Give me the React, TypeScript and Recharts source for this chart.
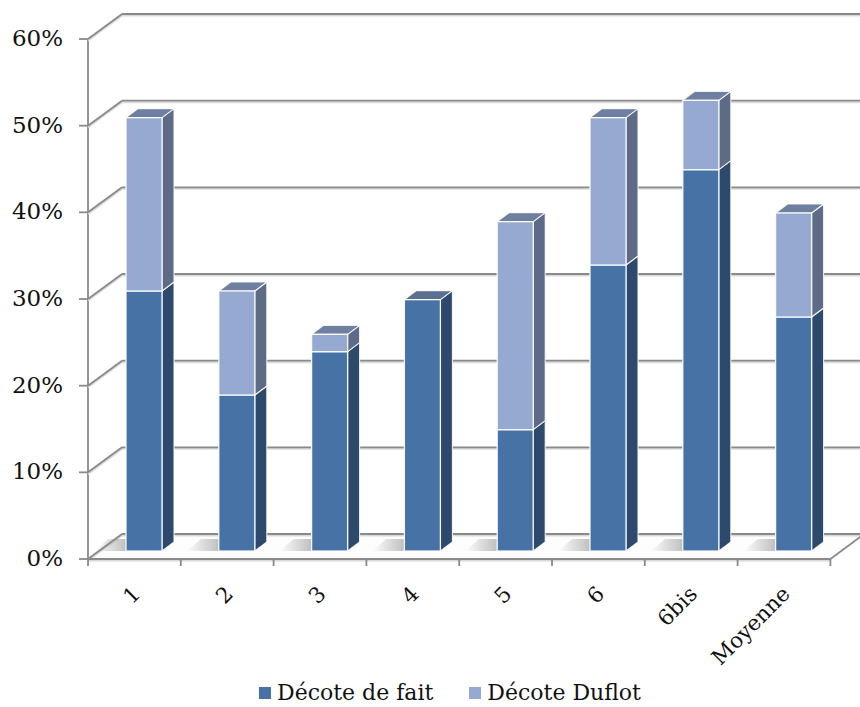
import React from 'react';
import { BarChart, Bar, XAxis, YAxis, CartesianGrid, Legend } from 'recharts';

// ---- data ----
const categories = ['1', '2', '3', '4', '5', '6', '6bis', 'Moyenne'];
const decoteDeFait = [30, 18, 23, 29, 14, 33, 44, 27];
const decoteDuflot = [20, 12, 2, 0, 24, 17, 8, 12];
const yTicks = [0, 10, 20, 30, 40, 50, 60];
const seriesNames = ['Décote de fait', 'Décote Duflot'];

const data = categories.map((c, i) => ({ cat: c, fait: decoteDeFait[i], duflot: decoteDuflot[i] }));

// ---- layout / style ----
const W = 860;
const H = 707;
const M_TOP = 31;
const PLOT_LEFT = 98;
const M_RIGHT = 19.6;
const X_AXIS_H = 156;
const PLOT_BOTTOM = H - X_AXIS_H;
const STEP = (PLOT_BOTTOM - M_TOP) / (yTicks.length - 1);
const FRONT_DX = -10;
const FRONT_DY = 8;
const BACK_DX = 24;
const BACK_DY = -17;
const BAR_DX = 12;
const BAR_DY = 9;
const BAND = (W - M_RIGHT - PLOT_LEFT) / categories.length;

const FONT = '"DejaVu Serif", serif';
const GRID = '#8a8a8a';
const GRID_SHADOW = '#dadada';
const TEXT = '#111111';

const C_FAIT = { front: '#4672a6', side: '#2d4a6d', top: '#5b6f90' };
const C_DUFLOT = { front: '#95a9d1', side: '#5e6b86', top: '#6f7fa0' };

function GridLine(props: any) {
  const { x1, y1, x2 } = props;
  const fx = x1 + FRONT_DX;
  const fy = y1 + FRONT_DY;
  const bx = x1 + BACK_DX;
  const by = y1 + BACK_DY;
  const isBottom = Math.abs(y1 - PLOT_BOTTOM) < 1;
  const isTop = Math.abs(y1 - M_TOP) < 1;
  const fxr = x2 + FRONT_DX;
  const dxd = BACK_DX - FRONT_DX;
  const dyd = BACK_DY - FRONT_DY;
  return (
    <g>
      {isBottom && (
        <polygon
          points={`${fx},${fy} ${fxr},${fy} ${fxr + dxd},${fy + dyd} ${bx},${by}`}
          fill="#fdfdfd"
          stroke="none"
        />
      )}
      <line x1={bx} y1={by + 1.5} x2={W} y2={by + 1.5} stroke={GRID_SHADOW} strokeWidth={2} />
      <line x1={fx} y1={fy + 1.5} x2={bx} y2={by + 1.5} stroke={GRID_SHADOW} strokeWidth={2} />
      <line x1={bx} y1={by} x2={W} y2={by} stroke={GRID} strokeWidth={1.8} />
      <line x1={fx} y1={fy} x2={bx} y2={by} stroke={GRID} strokeWidth={1.8} />
      <line x1={fx - 9} y1={fy} x2={fx} y2={fy} stroke={GRID} strokeWidth={1.8} />
      {!isTop && <line x1={fx} y1={fy} x2={fx} y2={fy - STEP} stroke={GRID} strokeWidth={1.8} />}
      {isBottom && (
        <g>
          <line x1={fx} y1={fy + 1.5} x2={fxr} y2={fy + 1.5} stroke={GRID_SHADOW} strokeWidth={2} />
          <line x1={fx} y1={fy} x2={fxr} y2={fy} stroke={GRID} strokeWidth={1.8} />
          <line x1={fxr} y1={fy} x2={fxr + dxd} y2={fy + dyd} stroke={GRID} strokeWidth={1.8} />
        </g>
      )}
    </g>
  );
}

function YTick(props: any) {
  const { y, payload } = props;
  return (
    <text
      x={PLOT_LEFT + FRONT_DX - 25}
      y={y + FRONT_DY - 1}
      textAnchor="end"
      dominantBaseline="central"
      fontFamily={FONT}
      fontSize={23}
      fill={TEXT}
    >
      {`${payload.value}%`}
    </text>
  );
}

function XTick(props: any) {
  const { x, payload, index } = props;
  const fx = x + FRONT_DX;
  const fy = PLOT_BOTTOM + FRONT_DY;
  const left = fx - BAND / 2;
  const right = fx + BAND / 2;
  const lx = fx + 2;
  const ly = fy + 31;
  return (
    <g>
      <line x1={left} y1={fy} x2={left} y2={fy + 7} stroke={GRID} strokeWidth={1.8} />
      {index === categories.length - 1 && (
        <line x1={right} y1={fy} x2={right} y2={fy + 7} stroke={GRID} strokeWidth={1.8} />
      )}
      <text
        x={lx}
        y={ly}
        transform={`rotate(-45, ${lx}, ${ly})`}
        textAnchor="end"
        dominantBaseline="central"
        fontFamily={FONT}
        fontSize={21.5}
        fill={TEXT}
      >
        {payload.value}
      </text>
    </g>
  );
}

function makeShape(colors: { front: string; side: string; top: string }, isBase: boolean) {
  return (props: any) => {
    const { x, y, width, height, index } = props;
    if (!height || height <= 0) return <g />;
    const w = width;
    const h = height;
    const showTop = isBase ? decoteDuflot[index] === 0 : true;
    const gid = `shadow-grad-${index}`;
    const bottom = y + h;
    return (
      <g>
        {isBase && (
          <g>
            <defs>
              <linearGradient id={gid} x1="0" y1="0" x2="1" y2="0">
                <stop offset="0" stopColor="#8f8f8f" stopOpacity={0} />
                <stop offset="1" stopColor="#8f8f8f" stopOpacity={0.85} />
              </linearGradient>
            </defs>
            <polygon
              points={`${x - 32},${bottom} ${x + 2},${bottom} ${x + 2 + 14},${bottom - 12} ${x - 32 + 14},${bottom - 12}`}
              fill={`url(#${gid})`}
            />
          </g>
        )}
        <polygon
          points={`${x + w},${bottom} ${x + w},${y} ${x + w + BAR_DX},${y - BAR_DY} ${x + w + BAR_DX},${bottom - BAR_DY}`}
          fill={colors.side}
          stroke="#ffffff"
          strokeWidth={1.1}
          strokeOpacity={0.85}
          strokeLinejoin="round"
        />
        {showTop && (
          <polygon
            points={`${x},${y} ${x + BAR_DX},${y - BAR_DY} ${x + w + BAR_DX},${y - BAR_DY} ${x + w},${y}`}
            fill={colors.top}
            stroke="#ffffff"
            strokeWidth={1.1}
            strokeOpacity={0.85}
            strokeLinejoin="round"
          />
        )}
        <rect
          x={x}
          y={y}
          width={w}
          height={h}
          fill={colors.front}
          stroke="#ffffff"
          strokeWidth={1.3}
          strokeOpacity={0.9}
        />
      </g>
    );
  };
}

function LegendContent() {
  const items = [
    { name: seriesNames[0], color: C_FAIT.front },
    { name: seriesNames[1], color: C_DUFLOT.front },
  ];
  return (
    <div
      style={{
        display: 'flex',
        alignItems: 'center',
        paddingLeft: 259,
        fontFamily: FONT,
        fontSize: 22,
        lineHeight: '24px',
        color: TEXT,
        height: 24,
      }}
    >
      {items.map((it, i) => (
        <div key={it.name} style={{ display: 'flex', alignItems: 'center', marginRight: i === 0 ? 36 : 0 }}>
          <span style={{ display: 'inline-block', width: 12, height: 12, background: it.color, marginRight: 6 }} />
          <span>{it.name}</span>
        </div>
      ))}
    </div>
  );
}

export default function App() {
  return (
    <div style={{ width: W, height: H, background: '#ffffff' }}>
      <style>{`body{margin:0;background:#fff;}`}</style>
      <BarChart
        width={W}
        height={H}
        data={data}
        margin={{ top: M_TOP, right: M_RIGHT, left: 0, bottom: 0 }}
        barSize={36}
      >
        <CartesianGrid horizontal={(p: any) => <GridLine {...p} />} vertical={false} />
        <YAxis
          type="number"
          domain={[0, 60]}
          ticks={yTicks}
          interval={0}
          width={PLOT_LEFT}
          axisLine={false}
          tickLine={false}
          tick={(p: any) => <YTick {...p} />}
        />
        <XAxis
          dataKey="cat"
          interval={0}
          height={X_AXIS_H}
          axisLine={false}
          tickLine={false}
          tick={(p: any) => <XTick {...p} />}
        />
        <Legend
          layout="horizontal"
          verticalAlign="middle"
          align="center"
          content={() => <LegendContent />}
          wrapperStyle={{ top: 681, left: 0, width: W }}
        />
        <Bar
          dataKey="fait"
          name={seriesNames[0]}
          stackId="a"
          fill={C_FAIT.front}
          isAnimationActive={false}
          shape={makeShape(C_FAIT, true)}
        />
        <Bar
          dataKey="duflot"
          name={seriesNames[1]}
          stackId="a"
          fill={C_DUFLOT.front}
          isAnimationActive={false}
          shape={makeShape(C_DUFLOT, false)}
        />
      </BarChart>
    </div>
  );
}
